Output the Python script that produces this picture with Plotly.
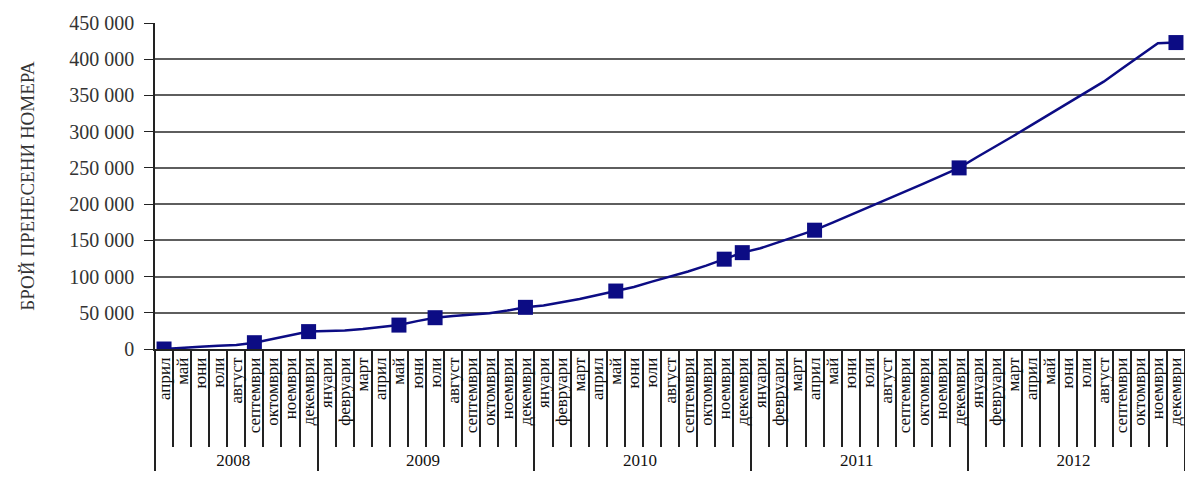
import plotly.graph_objects as go

month_names = ["януари", "февруари", "март", "април", "май", "юни", "юли",
               "август", "септември", "октомври", "ноември", "декември"]
years = ["2008", "2009", "2010", "2011", "2012"]

values_2008 = [0, 2000, 3000, 4500, 5500, 8700, 14000, 19500, 24000]  # April - December
values_2009 = [25000, 25500, 27500, 30000, 33000, 38500, 43200, 45500, 47500, 49500, 53000, 57500]
values_2010 = [60000, 64000, 69000, 74500, 80000, 85500, 93000, 99500, 107000, 115000, 124000, 133000]
values_2011 = [139000, 147000, 155000, 164000, 174500, 185000, 196000, 206500, 217500, 228000, 239000, 250000]
values_2012 = [265000, 279000, 294000, 309000, 324000, 338000, 353000, 369000, 387000, 404000, 422000, 423000]

# months that carry a square marker
marked_months = [("2008", "април"), ("2008", "септември"), ("2008", "декември"),
                 ("2009", "май"), ("2009", "юли"), ("2009", "декември"),
                 ("2010", "май"), ("2010", "ноември"), ("2010", "декември"),
                 ("2011", "април"), ("2011", "декември"), ("2012", "декември")]

y_title = "БРОЙ ПРЕНЕСЕНИ НОМЕРА"

year_values = {"2008": values_2008, "2009": values_2009, "2010": values_2010,
               "2011": values_2011, "2012": values_2012}

# Build the (year, month) category pairs; a zero-width space suffix keeps each
# year's month keys distinct so the multicategory axis keeps calendar order.
ZW = "\u200b"
x_year, x_month, y_all, keys = [], [], [], []
for k, yr in enumerate(years):
    vals = year_values[yr]
    months = month_names[12 - len(vals):]
    for m, v in zip(months, vals):
        x_year.append(yr)
        x_month.append(m + ZW * k)
        y_all.append(v)
        keys.append((yr, m))

mk_year, mk_month, mk_val = [], [], []
for pair in marked_months:
    i = keys.index(pair)
    mk_year.append(x_year[i])
    mk_month.append(x_month[i])
    mk_val.append(y_all[i])

navy = "#0c0c84"
serif = "Liberation Serif"

fig = go.Figure()
fig.add_trace(go.Scatter(x=[x_year, x_month], y=y_all, mode="lines",
                         line=dict(color=navy, width=2.5), showlegend=False))
fig.add_trace(go.Scatter(x=[mk_year, mk_month], y=mk_val, mode="markers",
                         marker=dict(symbol="square", size=15, color=navy),
                         showlegend=False))

fig.update_layout(
    width=1185, height=479,
    margin=dict(l=155, r=0, t=23, b=130),
    paper_bgcolor="white", plot_bgcolor="white",
    separators=", ",
    font=dict(family=serif, color="#222"),
    xaxis=dict(type="multicategory", range=[-0.5, 56.5], tickmode="linear", tick0=0, dtick=1,
               tickangle=-90, tickfont=dict(size=17, family=serif, color="#111"),
               tickson="boundaries", ticks="outside", ticklen=96, tickcolor="#222", tickwidth=1.5,
               showgrid=False, showline=True, linecolor="#222", linewidth=1.5,
               showdividers=True, dividercolor="#222", dividerwidth=1.5),
    yaxis=dict(range=[0, 450000], dtick=50000, tickformat=",d",
               tickfont=dict(size=20, family=serif, color="#333"),
               ticks="outside", ticklen=9, tickcolor="#222", ticklabelstandoff=6,
               showgrid=True, gridcolor="#5e5e5e", gridwidth=1.6,
               showline=True, linecolor="#222", linewidth=1.5, zeroline=False,
               title=dict(text=y_title, font=dict(size=19, family=serif, color="#333"), standoff=30)),
)

fig.write_html("out.html")
